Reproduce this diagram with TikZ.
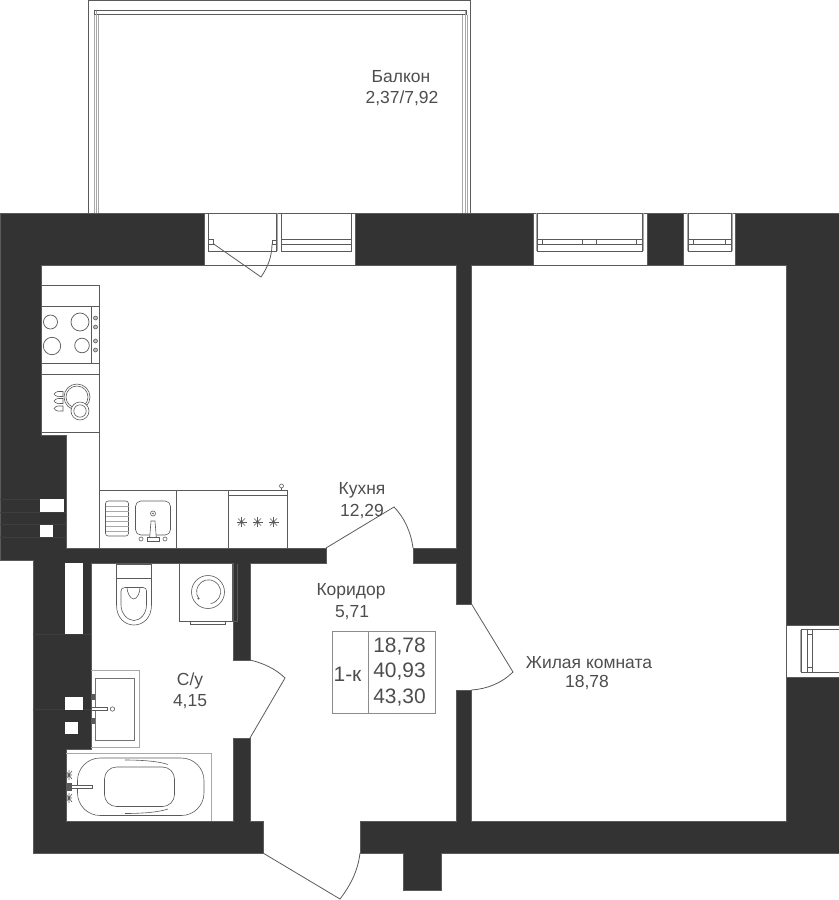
\documentclass[tikz,border=0pt]{standalone}
\usepackage{fontspec}
\setmainfont{Liberation Sans}
\definecolor{wallc}{HTML}{333333}
\definecolor{linec}{HTML}{5A5A5A}
\definecolor{greyl}{HTML}{A8A8A8}
\definecolor{txtc}{HTML}{4D4D4D}
\definecolor{seamc}{HTML}{3E3E3E}
\tikzset{
 wall/.style={fill=wallc,draw=linec,line width=0.3pt},
 shaft/.style={fill=white,draw=none},
 seam/.style={draw=seamc,line width=0.2pt},
 thin line/.style={draw=linec,line width=0.55pt},
 grey line/.style={draw=greyl,line width=0.7pt},
 fixture/.style={draw=linec,line width=0.45pt},
 door/.style={draw=linec,line width=0.6pt},
 label/.style={text=txtc,font=\fontsize{13.1}{15}\selectfont,inner sep=0pt,align=center},
 legend/.style={text=txtc,font=\fontsize{15.7}{18}\selectfont,inner sep=0pt},
}
\begin{document}
\begin{tikzpicture}[x=0.75pt,y=-0.75pt]
\useasboundingbox (0,0) rectangle (839,900);
% balcony
\draw[thin line] (88.5,213) -- (88.5,0.5) -- (470.5,0.5) -- (470.5,213);
\draw[thin line] (94,14.5) rectangle (466,10.5);
\draw[grey line] (94,14.5) -- (94,213) (96.5,10.5) -- (96.5,213) (98.5,14.5) -- (98.5,213);
\draw[grey line] (462.5,14.5) -- (462.5,213) (465,10.5) -- (465,213) (467,14.5) -- (467,213);
% walls
\draw[wall] (0,213) -- (204,213) -- (204,265) -- (41,265) -- (41,435) -- (66,435) -- (66,548) -- (326,548) -- (326,563) -- (250,563) -- (250,660) -- (233,660) -- (233,563) -- (91,563) -- (91,749) -- (66,749) -- (66,821) -- (233,821) -- (233,738) -- (250,738) -- (250,821) -- (263,821) -- (263,853) -- (33,853) -- (33,560) -- (0,560) -- cycle;
\draw[wall] (355,213) -- (533,213) -- (533,265) -- (471.5,265) -- (471.5,604) -- (456,604) -- (456,563) -- (413,563) -- (413,548) -- (456,548) -- (456,265) -- (355,265) -- cycle;
\draw[wall] (456,690) -- (471.5,690) -- (471.5,821) -- (786,821) -- (786,677) -- (839,677) -- (839,853) -- (441,853) -- (441,890) -- (403,890) -- (403,853) -- (360,853) -- (360,821) -- (456,821) -- cycle;
\draw[wall] (647,213) rectangle (683,265);
\draw[wall] (735,213) -- (839,213) -- (839,625) -- (786,625) -- (786,265) -- (735,265) -- cycle;
% shafts
\draw[seam] (0,499) -- (40,499) (0,512) -- (66,512) (0,524) -- (66,524) (0,537) -- (66,537) (33,634) -- (91,634) (33,709) -- (91,709);
\fill[shaft] (39.5,499) rectangle (64,512);
\fill[shaft] (39.5,524.5) rectangle (52.5,537);
\fill[shaft] (64.5,562.5) rectangle (82.5,634);
\fill[shaft] (64.5,696.5) rectangle (83,709.5);
\fill[shaft] (64.5,721.5) rectangle (77.5,734);
% wall opening lines
\draw[thin line] (204,213) -- (355,213) (204,265) -- (355,265);
\draw[thin line] (533,213) -- (647,213) (533,265) -- (647,265);
\draw[thin line] (683,213) -- (735,213) (683,265) -- (735,265);
\draw[thin line] (786,625) -- (786,677) (839,625) -- (839,677);
% balcony door frame
\draw[thin line] (208.5,213) -- (208.5,251) -- (276.5,251) -- (276.5,213);
\draw[grey line] (277.5,213) -- (277.5,251);
\draw[fixture] (208.5,239.5) rectangle (213,244);
\draw[fixture] (272,240.5) rectangle (276.5,244);
\draw[door] (213,243.5) -- (261,277) .. controls (268,267) and (272,256) .. (272,244);
% balcony window
\draw[thin line] (281.5,213) -- (281.5,251) -- (351,251) -- (351,213);
\draw[thin line] (281.5,239.5) -- (351,239.5) (281.5,244) -- (351,244);
% window 2
\draw[thin line] (537.5,213) -- (537.5,251) -- (642,251) -- (642,213);
\draw[grey line] (536.5,213) -- (536.5,251) (643,213) -- (643,251);
\draw[thin line] (537.5,239.5) -- (642,239.5) (537.5,244.5) -- (642,244.5);
\draw[fixture] (542.5,239.5) -- (542.5,244.5) (582.5,239.5) -- (582.5,244.5) (596.5,239.5) -- (596.5,244.5) (636.5,239.5) -- (636.5,244.5);
% window 3
\draw[thin line] (688,213) -- (688,251) -- (731,251) -- (731,213);
\draw[grey line] (687,213) -- (687,251) (732,213) -- (732,251);
\draw[thin line] (688,239.5) -- (731,239.5) (688,244.5) -- (731,244.5);
\draw[fixture] (693,239.5) -- (693,244.5) (725.5,239.5) -- (725.5,244.5);
% window 4
\draw[thin line] (839,629.5) -- (801,629.5) -- (801,672) -- (839,672);
\draw[grey line] (800.5,629.5) -- (800.5,672);
\draw[thin line] (807.5,629.5) -- (807.5,672) (812.5,629.5) -- (812.5,672);
\draw[fixture] (807.5,634.5) -- (812.5,634.5) (807.5,667) -- (812.5,667);
% left kitchen counter
\draw[fixture] (41,285) -- (99,285) -- (99,490);
\draw[fixture] (41,306) -- (99,306) (41,363.5) -- (99,363.5) (41,374) -- (99,374) (41,432) -- (99,432) (91.5,306) -- (91.5,363.5);
\draw[thin line] (50.5,322) circle[radius=7];
\draw[thin line] (80,322) circle[radius=9];
\draw[thin line] (52,346) circle[radius=8.7];
\draw[thin line] (82,345.5) circle[radius=7.3];
\foreach \yy in {318,327,341,350} {
  \draw[fixture,fill=black!25] (95.5,\yy) circle[radius=2];
}
\draw[fixture] (77,397) circle[radius=13] (77,397) circle[radius=11];
\draw[fixture,fill=white] (80,411) circle[radius=9];
\draw[fixture] (80,411) circle[radius=6.2];
\foreach \yy in {394,401,408.5} {
  \draw[fixture] (54,\yy) .. controls (56,\yy-3) and (60,\yy-3) .. (63,\yy-2.5) -- (63,\yy+2.5) .. controls (60,\yy+3) and (56,\yy+3) .. (54,\yy) -- cycle;
}
% lower counter
\draw[fixture] (99,548) -- (99,490) -- (287,490) -- (287,548);
\draw[fixture] (176.5,490) -- (176.5,548) (228.5,490) -- (228.5,548);
\draw[fixture,rounded corners=2pt] (105.5,501) rectangle (128.5,536);
\foreach \yy in {506,511,516,521,526,531} { \draw[grey line,line width=0.5pt] (105.5,\yy) -- (128.5,\yy); }
\draw[fixture,rounded corners=4pt] (135.5,501) rectangle (170.5,535);
\draw[fixture] (153,513.5) circle[radius=2.5];
\fill[linec] (153,513.5) circle[radius=0.9];
\draw[fixture,fill=white] (151,521) -- (155,521) -- (156.5,540) -- (149.5,540) -- cycle;
\draw[fixture,fill=white] (147.5,537.5) rectangle (159,541);
\draw[fixture] (141,539) circle[radius=2] (165,539) circle[radius=2];
% stove
\draw[fixture] (228.5,495.5) -- (287,495.5);
\draw[fixture] (281.5,486) circle[radius=2];
\draw[fixture] (281.5,488) -- (281.5,490);
\foreach \xx in {241.5,257.5,273.5} {
  \foreach \aa in {0,45,90,135} { \draw[fixture] (\xx,522) ++(\aa:-5) -- ++(\aa:10); }
  \fill[linec] (\xx,522) circle[radius=1.6];
}
% toilet
\draw[fixture] (116.5,564) rectangle (151.5,578);
\draw[fixture] (116.5,578) -- (116.5,605) .. controls (116.5,618) and (125,625) .. (134,625) .. controls (143,625) and (151.5,618) .. (151.5,605) -- (151.5,578);
\draw[fixture] (125,587.5) -- (143,587.5) .. controls (145.5,587.5) and (146.5,589) .. (146.5,591) -- (146.5,605) .. controls (146.5,614) and (140,620.5) .. (134,620.5) .. controls (128,620.5) and (121,614) .. (121,605) -- (121,591) .. controls (121,589) and (122.5,587.5) .. (125,587.5);
\draw[fixture] (127,587.5) .. controls (127,592) and (130,599) .. (133.7,599) .. controls (137.5,599) and (140,592) .. (140,587.5);
% washer
\draw[fixture] (179,564) -- (179,621) -- (237,621) -- (237,564);
\draw[fixture] (232.5,564) -- (232.5,621);
\draw[fixture] (190.5,621) rectangle (225.5,624);
\draw[fixture] (208,592) circle[radius=16.5];
\draw[fixture] (199,599) arc[start angle=217,end angle=-80,x radius=12,y radius=-12];
\fill[linec] (198.5,598.5) circle[radius=1.2];
% lavatory
\draw[grey line,line width=0.6pt] (91,670.5) -- (139.5,670.5) -- (139.5,747.5) -- (91,747.5);
\draw[fixture,draw=black!55] (95.5,678) rectangle (134.5,740);
\draw[fixture,fill=white] (91,707.5) rectangle (107,710.5);
\draw[fixture] (112.5,709) circle[radius=2.2];
\fill[linec] (91,694) rectangle (95,700);
\fill[linec] (91,718) rectangle (95,724);
% bath
\draw[grey line] (66,753) -- (211,753) -- (211,821);
\draw[fixture,rounded corners=17pt] (77.5,758) rectangle (204,815.5);
\draw[fixture,rounded corners=9pt] (104.5,767) rectangle (174.5,806.5);
\draw[fixture] (125,760) .. controls (140,760) and (158,761) .. (168,764.5);
\draw[fixture] (125,813.5) .. controls (140,813.5) and (158,812.5) .. (168,809);
\draw[fixture,fill=white] (66,785.5) rectangle (92,788.5);
\fill[linec] (66,783) rectangle (72,791);
\draw[fixture] (66,775) -- (72,775) (69,770) -- (69,780) (66,771) -- (72,779) (72,771) -- (66,779);
\draw[fixture] (66,798) -- (72,798) (69,793) -- (69,803) (66,794) -- (72,802) (72,794) -- (66,802);
% doors
\draw[door] (250,738) -- (285,678) .. controls (276,669) and (263,663) .. (250,660);
\draw[door] (326,548) -- (394,507) .. controls (404,517) and (411,532) .. (413,548);
\draw[door] (471.5,604) -- (513,672) .. controls (502,683) and (487,689) .. (471.5,690);
\draw[door] (263,853) -- (340,899) .. controls (350,886) and (358,871) .. (360,853);
% legend
\draw[grey line,draw=black!45] (332,631) rectangle (435,713);
\draw[grey line,draw=black!45] (368,631) -- (368,713);
% labels
\node[label] (balkon) at (401,76.5) {Балкон};
\node[label] (balkonarea) at (402,98.5) {2,37/7,92};
\node[label] (kuhnya) at (362,490.5) {Кухня};
\node[label] (kuhnyaarea) at (362,511.5) {12,29};
\node[label] (koridor) at (351,591.5) {Коридор};
\node[label] (koridorarea) at (352,613) {5,71};
\node[label] (su) at (190,680.5) {С/у};
\node[label] (suarea) at (190,701.5) {4,15};
\node[label] (zhilaya) at (589,662.5) {Жилая комната};
\node[label] (zhilayaarea) at (587,683) {18,78};
\node[legend] (type) at (347.5,674) {1-к};
\node[legend] (area1) at (399.5,646.5) {18,78};
\node[legend] (area2) at (399.5,672) {40,93};
\node[legend] (area3) at (399.5,698) {43,30};
\end{tikzpicture}
\end{document}
